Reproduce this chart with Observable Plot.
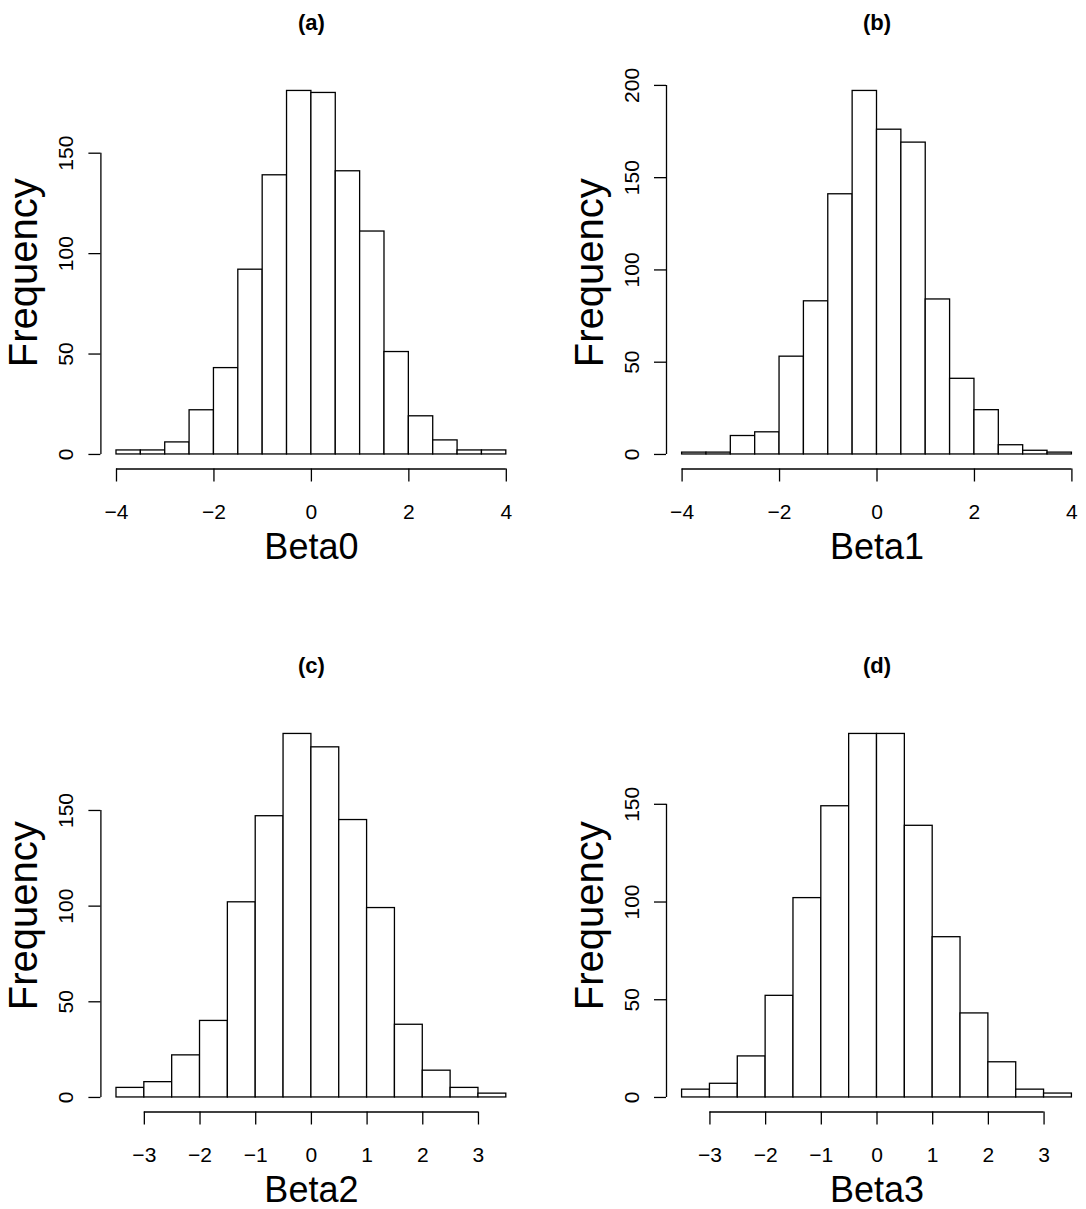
<!DOCTYPE html>
<html><head><meta charset="utf-8">
<script src="https://cdn.jsdelivr.net/npm/d3@7"></script>
<script src="https://cdn.jsdelivr.net/npm/@observablehq/plot@0.6"></script>
<style>
html,body{margin:0;padding:0;background:#fff;overflow:hidden;width:1086px;height:1209px;}
#wrap{position:relative;width:1086px;height:1209px;overflow:hidden;background:#fff;}
.panel{position:absolute;}
.panel svg{max-width:none !important;display:block;}
</style></head><body><div id="wrap"></div>
<script>
const titles = ["(a)", "(b)", "(c)", "(d)"];
const xLabels = ["Beta0", "Beta1", "Beta2", "Beta3"];
const yLabel = "Frequency";
const breaksBeta01 = [-4, -3.5, -3, -2.5, -2, -1.5, -1, -0.5, 0, 0.5, 1, 1.5, 2, 2.5, 3, 3.5, 4];
const breaksBeta23 = [-3.5, -3, -2.5, -2, -1.5, -1, -0.5, 0, 0.5, 1, 1.5, 2, 2.5, 3, 3.5];
const countsBeta0 = [2, 2, 6, 22, 43, 92, 139, 181, 180, 141, 111, 51, 19, 7, 2, 2];
const countsBeta1 = [1, 1, 10, 12, 53, 83, 141, 197, 176, 169, 84, 41, 24, 5, 2, 1];
const countsBeta2 = [5, 8, 22, 40, 102, 147, 190, 183, 145, 99, 38, 14, 5, 2];
const countsBeta3 = [4, 7, 21, 52, 102, 149, 186, 186, 139, 82, 43, 18, 4, 2];
const xTicksBeta01 = [-4, -2, 0, 2, 4];
const xTicksBeta23 = [-3, -2, -1, 0, 1, 2, 3];
const yTicksBeta0 = [0, 50, 100, 150];
const yTicksBeta1 = [0, 50, 100, 150, 200];
const yTicksBeta2 = [0, 50, 100, 150];
const yTicksBeta3 = [0, 50, 100, 150];

const FONT = "'Liberation Sans', Arial, Helvetica, sans-serif";
const PLOT_W = 421, PLOT_H = 392.6, MT = 75.9;

const panels = [
  {title: titles[0], xl: xLabels[0], breaks: breaksBeta01, counts: countsBeta0, xt: xTicksBeta01, yt: yTicksBeta0, left: 0,   top: 0,     width: 543, height: 643, ml: 100.4},
  {title: titles[1], xl: xLabels[1], breaks: breaksBeta01, counts: countsBeta1, xt: xTicksBeta01, yt: yTicksBeta1, left: 543, top: 0,     width: 550, height: 643, ml: 123},
  {title: titles[2], xl: xLabels[2], breaks: breaksBeta23, counts: countsBeta2, xt: xTicksBeta23, yt: yTicksBeta2, left: 0,   top: 643.3, width: 543, height: 566, ml: 100.4},
  {title: titles[3], xl: xLabels[3], breaks: breaksBeta23, counts: countsBeta3, xt: xTicksBeta23, yt: yTicksBeta3, left: 543, top: 643.3, width: 550, height: 566, ml: 123}
];

const wrap = document.getElementById("wrap");
for (const p of panels) {
  const bins = p.counts.map((c, i) => ({x1: p.breaks[i], x2: p.breaks[i + 1], count: c}));
  const lo = p.breaks[0], hi = p.breaks[p.breaks.length - 1], pad = 0.04 * (hi - lo);
  const ymax = d3.max(p.counts);
  const xDomain = [lo - pad, hi + pad];
  const yDomain = [-0.04 * ymax, 1.04 * ymax];
  const chart = Plot.plot({
    width: p.width,
    height: p.height,
    marginLeft: p.ml,
    marginRight: p.width - p.ml - PLOT_W,
    marginTop: MT,
    marginBottom: p.height - MT - PLOT_H,
    x: {domain: xDomain},
    y: {domain: yDomain},
    style: {fontFamily: FONT, background: "transparent", color: "black", overflow: "visible"},
    marks: [
      Plot.rectY(bins, {x1: "x1", x2: "x2", y: "count", fill: "white", stroke: "black", strokeWidth: 1.3, inset: 0}),
      Plot.ruleY([{y: yDomain[0], x1: p.xt[0], x2: p.xt[p.xt.length - 1]}], {y: "y", x1: "x1", x2: "x2", stroke: "black", strokeWidth: 1.3}),
      Plot.ruleX([{x: xDomain[0], y1: p.yt[0], y2: p.yt[p.yt.length - 1]}], {x: "x", y1: "y1", y2: "y2", stroke: "black", strokeWidth: 1.3}),
      Plot.axisX(p.xt, {anchor: "bottom", tickSize: 13, tickPadding: 22, fontSize: 21, label: null, strokeWidth: 1.3}),
      Plot.axisY(p.yt, {anchor: "left", tickSize: 12, tickPadding: 16, tickRotate: -90, fontSize: 21, label: null, strokeWidth: 1.3}),
      Plot.text([p.title], {text: d => d, frameAnchor: "top", dy: -62, fontWeight: "bold", fontSize: 22}),
      Plot.text([p.xl], {text: d => d, frameAnchor: "bottom", dy: 89.5, fontSize: 36, lineAnchor: "bottom"}),
      Plot.text([yLabel], {text: d => d, frameAnchor: "left", dx: -63.7, rotate: -90, fontSize: 40, textAnchor: "middle", lineAnchor: "bottom"})
    ]
  });
  const div = document.createElement("div");
  div.className = "panel";
  div.style.left = p.left + "px";
  div.style.top = p.top + "px";
  div.style.width = p.width + "px";
  div.style.height = p.height + "px";
  div.appendChild(chart);
  wrap.appendChild(div);
}
</script>
</body></html>
